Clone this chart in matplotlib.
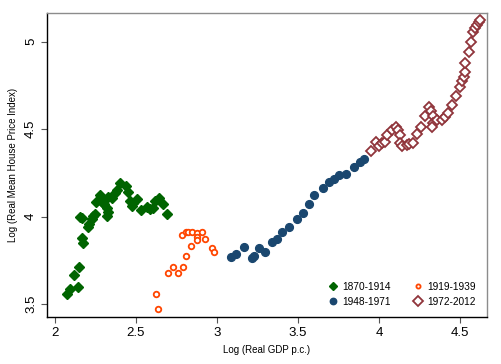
import matplotlib
matplotlib.use('Agg')
import matplotlib.pyplot as plt

plt.rcParams['font.family'] = ['Liberation Sans', 'DejaVu Sans']

# 1870-1914
gdp_1870 = [2.076, 2.093, 2.144, 2.117, 2.150, 2.165, 2.175, 2.202, 2.212, 2.154,
            2.169, 2.227, 2.236, 2.247, 2.251, 2.278, 2.288, 2.304, 2.319, 2.329,
            2.323, 2.329, 2.350, 2.370, 2.381, 2.401, 2.438, 2.452, 2.463, 2.473,
            2.483, 2.508, 2.529, 2.566, 2.586, 2.603, 2.617, 2.644, 2.669, 2.690]
hpi_1870 = [3.558, 3.587, 3.597, 3.665, 3.714, 3.880, 3.848, 3.943, 3.958, 4.000,
            3.994, 3.985, 4.004, 4.014, 4.082, 4.122, 4.086, 4.071, 4.048, 4.029,
            4.004, 4.114, 4.105, 4.134, 4.153, 4.191, 4.177, 4.143, 4.090, 4.061,
            4.077, 4.101, 4.038, 4.057, 4.042, 4.048, 4.091, 4.107, 4.071, 4.014]

# 1919-1939
gdp_1919 = [2.622, 2.636, 2.696, 2.727, 2.761, 2.788, 2.810, 2.840, 2.786, 2.807,
            2.823, 2.844, 2.878, 2.878, 2.875, 2.906, 2.928, 2.971, 2.983]
hpi_1919 = [3.557, 3.471, 3.677, 3.711, 3.680, 3.714, 3.774, 3.829, 3.895, 3.913,
            3.911, 3.911, 3.905, 3.882, 3.867, 3.911, 3.871, 3.821, 3.798]

# 1948-1971
gdp_1948 = [3.086, 3.115, 3.165, 3.214, 3.230, 3.261, 3.298, 3.341, 3.372, 3.399,
            3.444, 3.494, 3.533, 3.566, 3.599, 3.654, 3.691, 3.724, 3.753, 3.794,
            3.848, 3.883, 3.909]
hpi_1948 = [3.766, 3.787, 3.825, 3.762, 3.775, 3.823, 3.797, 3.854, 3.873, 3.909,
            3.943, 3.989, 4.023, 4.073, 4.122, 4.166, 4.197, 4.215, 4.237, 4.244,
            4.284, 4.314, 4.328]

# 1972-2012
gdp_1972 = [3.949, 3.983, 3.998, 4.017, 4.040, 4.052, 4.078, 4.107, 4.119, 4.130,
            4.127, 4.142, 4.171, 4.188, 4.208, 4.236, 4.257, 4.284, 4.309, 4.322,
            4.335, 4.331, 4.325, 4.360, 4.387, 4.407, 4.428, 4.449, 4.478, 4.502,
            4.512, 4.522, 4.534, 4.534, 4.556, 4.570, 4.580, 4.594, 4.606, 4.616,
            4.623]
hpi_1972 = [4.374, 4.429, 4.404, 4.419, 4.429, 4.469, 4.495, 4.515, 4.493, 4.467,
            4.419, 4.404, 4.410, 4.415, 4.421, 4.470, 4.513, 4.575, 4.627, 4.604,
            4.575, 4.535, 4.514, 4.553, 4.550, 4.571, 4.594, 4.638, 4.691, 4.743,
            4.775, 4.801, 4.829, 4.881, 4.943, 5.000, 5.057, 5.077, 5.095, 5.111,
            5.127]

xticks = [2, 2.5, 3, 3.5, 4, 4.5]
xticklabels = ['2', '2.5', '3', '3.5', '4', '4.5']
yticks = [3.5, 4, 4.5, 5]
yticklabels = ['3.5', '4', '4.5', '5']

fig = plt.figure(figsize=(5.01, 3.64), dpi=100)
ax = fig.add_axes([0.0932, 0.1283, 0.8795, 0.8368])

green = '#006400'
orange = '#ff4500'
navy = '#1a476f'
maroon = '#90353b'

ax.plot(gdp_1870, hpi_1870, linestyle='none', marker='D', ms=5,
        color=green, mec=green, label='1870-1914')
ax.plot(gdp_1919, hpi_1919, linestyle='none', marker='o', ms=4,
        mfc='white', mec=orange, mew=1.3, label='1919-1939')
ax.plot(gdp_1948, hpi_1948, linestyle='none', marker='o', ms=5.6,
        color=navy, mec=navy, label='1948-1971')
ax.plot(gdp_1972, hpi_1972, linestyle='none', marker='D', ms=4.8,
        mfc='white', mec=maroon, mew=1.3, label='1972-2012')

ax.set_xlim(1.949, 4.669)
ax.set_ylim(3.424, 5.166)
ax.set_xticks(xticks)
ax.set_xticklabels(xticklabels, fontsize=9.5)
ax.set_yticks(yticks)
ax.set_yticklabels(yticklabels, fontsize=9.5, rotation=90, va='center')
ax.tick_params(direction='out', length=4, width=0.8, color='#555555', pad=3)

ax.set_xlabel('Log (Real GDP p.c.)', fontsize=7, labelpad=4)
ax.set_ylabel('Log (Real Mean House Price Index)', fontsize=7, labelpad=5)

for side in ['top', 'right']:
    ax.spines[side].set_color('#8c8c8c')
    ax.spines[side].set_linewidth(1.0)
for side in ['left', 'bottom']:
    ax.spines[side].set_color('black')
    ax.spines[side].set_linewidth(1.0)

# legend order: row 1 = 1870, 1919; row 2 = 1948, 1972
handles, labels = ax.get_legend_handles_labels()
order = [0, 2, 1, 3]
leg = ax.legend([handles[i] for i in order], [labels[i] for i in order],
                ncol=2, frameon=False, loc='lower right',
                bbox_to_anchor=(0.995, 0.004), fontsize=7.3,
                handlelength=1.0, handletextpad=0.4, columnspacing=2.2,
                labelspacing=0.5)

# smaller legend symbols, as in the original
leg_sizes = [3.6, 4.6, 3.0, 5.0]
for h, s in zip(leg.legend_handles, leg_sizes):
    h.set_markersize(s)

fig.savefig('out.png', dpi=100)
